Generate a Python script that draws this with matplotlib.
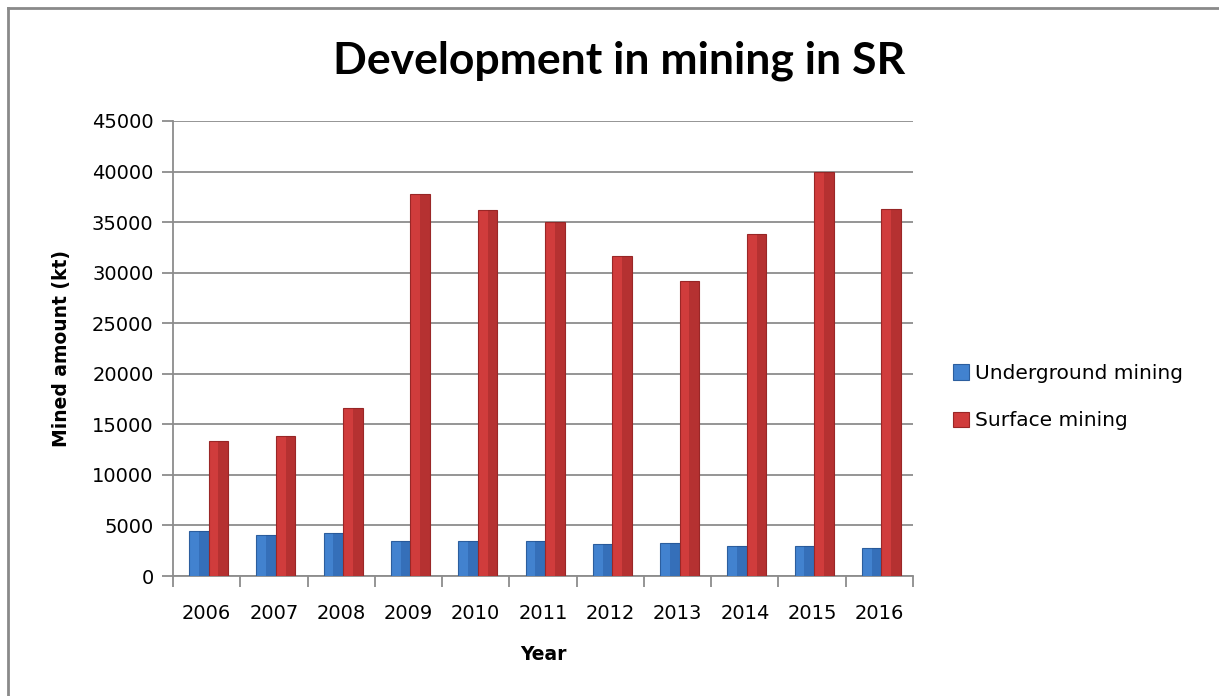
import matplotlib
matplotlib.use("Agg")
import matplotlib.pyplot as plt
import numpy as np
from matplotlib.lines import Line2D

years = ["2006", "2007", "2008", "2009", "2010", "2011", "2012", "2013", "2014", "2015", "2016"]
underground = [4500, 4100, 4300, 3500, 3500, 3500, 3150, 3300, 2950, 2950, 2750]
surface = [13400, 13800, 16600, 37750, 36200, 35000, 31600, 29200, 33800, 40000, 36300]
yticks = [0, 5000, 10000, 15000, 20000, 25000, 30000, 35000, 40000, 45000]

fig = plt.figure(figsize=(12.19, 6.96), dpi=100)
fig.patch.set_facecolor("white")
ax = fig.add_axes([173/1219, 1 - 576/696, (913-173)/1219, (576-121)/696])

x = np.arange(len(years))
w = 0.29
off = 0.03
b1 = ax.bar(x - w/2 + off, underground, w, color="#4282CF", edgecolor="#2C5E9E", linewidth=0.8,
            label="Underground mining", zorder=3)
b2 = ax.bar(x + w/2 + off, surface, w, color="#D03C3C", edgecolor="#9A2727", linewidth=0.8,
            label="Surface mining", zorder=3)
# darker right half for bevel look
ax.bar(x - w/2 + off, underground, w/2, align="edge", color="#1E4E90", alpha=0.35, zorder=4, linewidth=0)
ax.bar(x + w/2 + off, surface, w/2, align="edge", color="#8E2222", alpha=0.4, zorder=4, linewidth=0)

ax.set_xlim(-0.5, len(years) - 0.5)
ax.set_ylim(0, 45000)
ax.set_yticks(yticks)
ax.set_yticklabels([str(v) for v in yticks])
ax.yaxis.grid(True, color="#8C8C8C", linewidth=1.3, zorder=0)
ax.set_axisbelow(True)

ax.set_xticks(x)
ax.set_xticklabels(years)
ax.set_xticks(np.arange(-0.5, len(years), 1.0), minor=True)
ax.tick_params(axis="x", which="major", length=0, pad=20, labelsize=14)
ax.tick_params(axis="x", which="minor", length=8, color="#8C8C8C", width=1.3)
ax.tick_params(axis="y", length=8, color="#8C8C8C", width=1.3, labelsize=14, pad=6)

for s in ["top", "right"]:
    ax.spines[s].set_visible(False)
for s in ["left", "bottom"]:
    ax.spines[s].set_color("#8C8C8C")
    ax.spines[s].set_linewidth(1.3)

ax.set_ylabel("Mined amount (kt)", fontsize=13.5, fontweight="bold", labelpad=15)
ax.set_xlabel("Year", fontsize=13.5, fontweight="bold", labelpad=16)

fig.text(619/1219, 1 - 61/696, "Development in mining in SR", ha="center", va="center",
         fontsize=32, fontweight="bold", family="Lato")

leg = fig.legend(handles=[b1, b2], loc="upper left", bbox_to_anchor=(935/1219, 1 - 346/696),
                 frameon=False, fontsize=14.5, labelspacing=1.4, handlelength=0.8,
                 handleheight=0.8, handletextpad=0.3)

# outer chart border (top and left visible)
fig.add_artist(Line2D([8/1219, 8/1219], [0, 1 - 8/696], color="#8A8A8A", linewidth=2, transform=fig.transFigure))
fig.add_artist(Line2D([8/1219, 1], [1 - 8/696, 1 - 8/696], color="#8A8A8A", linewidth=2, transform=fig.transFigure))

fig.savefig("out.png", dpi=100, facecolor="white")
